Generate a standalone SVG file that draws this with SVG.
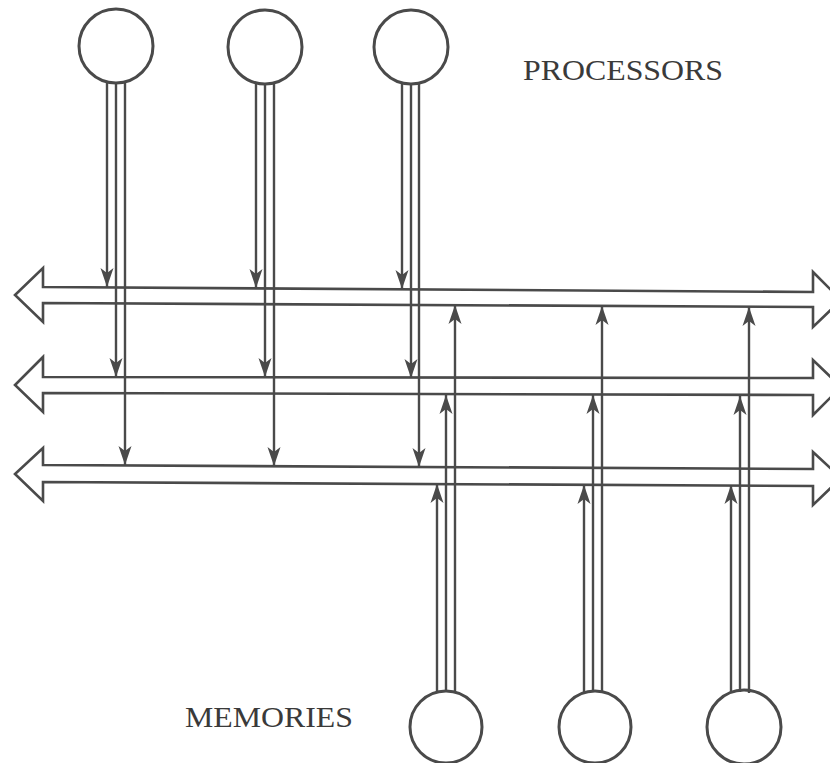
<svg xmlns="http://www.w3.org/2000/svg" width="830" height="763" viewBox="0 0 830 763">
<style>
.node circle{fill:none;stroke:#4a4a4a;stroke-width:3}
.bus{fill:none;stroke:#4a4a4a;stroke-width:2.6;stroke-linejoin:miter}
.conn line{stroke:#4a4a4a;stroke-width:2.4}
.lbl{font-family:"Liberation Serif","Times New Roman",serif;font-size:30px;fill:#3a3a3a}
</style>
<defs>
<marker id="ah" viewBox="-20 -8 22 16" refX="0" refY="0" markerWidth="22" markerHeight="16" markerUnits="userSpaceOnUse" orient="auto">
<path d="M0,0 L-19,-6.5 L-14,0 L-19,6.5 Z" fill="#4a4a4a"/>
</marker>
</defs>
<rect width="830" height="763" fill="#fff"/>
<g id="buses">
<path id="bus1" class="bus" d="M43,287 L43,268 L15,295 L43,322 L43,303 L813,307 L813,327 L841,300 L813,272 L813,292 Z"/>
<path id="bus2" class="bus" d="M43,377 L43,357 L15,385 L43,412 L43,393 L813,395 L813,415 L841,387 L813,360 L813,378 Z"/>
<path id="bus3" class="bus" d="M43,465 L43,448 L15,474 L43,501 L43,482 L813,486 L813,505 L841,478 L813,452 L813,469 Z"/>
</g>
<g id="connectors" class="conn">
<line x1="107" y1="81" x2="107" y2="287" marker-end="url(#ah)"/>
<line x1="116" y1="82" x2="116" y2="377" marker-end="url(#ah)"/>
<line x1="125" y1="81" x2="125" y2="465" marker-end="url(#ah)"/>
<line x1="256" y1="82" x2="256" y2="288" marker-end="url(#ah)"/>
<line x1="265" y1="83" x2="265" y2="377" marker-end="url(#ah)"/>
<line x1="274" y1="82" x2="274" y2="466" marker-end="url(#ah)"/>
<line x1="402" y1="82" x2="402" y2="289" marker-end="url(#ah)"/>
<line x1="411" y1="83" x2="411" y2="378" marker-end="url(#ah)"/>
<line x1="419" y1="82" x2="419" y2="467" marker-end="url(#ah)"/>
<line x1="437" y1="693" x2="437" y2="484" marker-end="url(#ah)"/>
<line x1="446" y1="692" x2="446" y2="395" marker-end="url(#ah)"/>
<line x1="455" y1="693" x2="455" y2="305" marker-end="url(#ah)"/>
<line x1="584" y1="693" x2="584" y2="485" marker-end="url(#ah)"/>
<line x1="593" y1="692" x2="593" y2="395" marker-end="url(#ah)"/>
<line x1="602" y1="693" x2="602" y2="306" marker-end="url(#ah)"/>
<line x1="731" y1="693" x2="731" y2="485" marker-end="url(#ah)"/>
<line x1="740" y1="692" x2="740" y2="396" marker-end="url(#ah)"/>
<line x1="749" y1="693" x2="749" y2="307" marker-end="url(#ah)"/>
</g>
<g id="p1" class="node"><circle cx="116" cy="46" r="37"/></g>
<g id="p2" class="node"><circle cx="265" cy="47" r="37"/></g>
<g id="p3" class="node"><circle cx="411" cy="47" r="37"/></g>
<g id="m1" class="node"><circle cx="446" cy="727" r="36"/></g>
<g id="m2" class="node"><circle cx="595" cy="727" r="36"/></g>
<g id="m3" class="node"><circle cx="744" cy="727" r="37"/></g>
<g id="labels">
<text class="lbl" x="523" y="80" textLength="200" lengthAdjust="spacingAndGlyphs">PROCESSORS</text>
<text class="lbl" x="185" y="727" textLength="168" lengthAdjust="spacingAndGlyphs">MEMORIES</text>
</g>
</svg>
